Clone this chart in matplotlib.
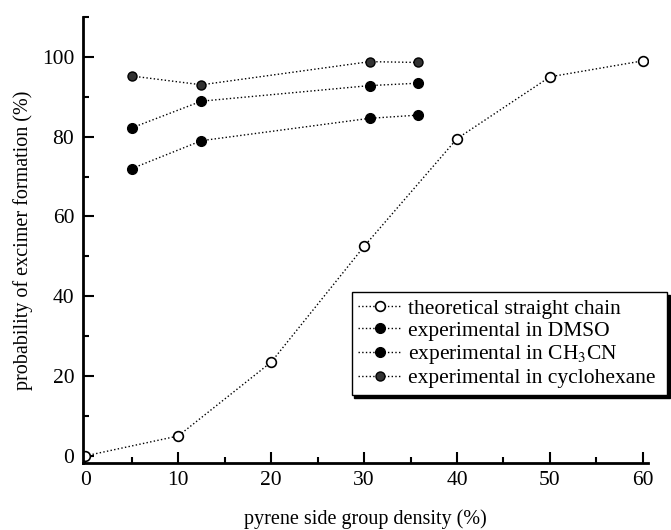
import numpy as np
import matplotlib.pyplot as plt
from matplotlib.ticker import MultipleLocator

plt.rcParams['font.family'] = ['Liberation Serif', 'DejaVu Serif']
plt.rcParams['mathtext.fontset'] = 'stix'

# данные
theory_x = [0, 10, 20, 30, 40, 50, 60]
theory_y = [0, 5, 23.5, 52.5, 79.5, 95, 99]

exp_x = [5, 12.5, 30.6, 35.8]
dmso_y = [72, 79, 84.6, 85.4]
ch3cn_y = [82.2, 88.9, 92.8, 93.4]
cyclohexane_y = [95.2, 93, 98.8, 98.6]

labels = [
    'theoretical straight chain',
    'experimental in DMSO',
    r'experimental in CH$_3$CN',
    'experimental in cyclohexane',
]

fig = plt.figure(figsize=(6.71, 5.30), dpi=100)
ax = fig.add_axes([0.123, 0.127, 0.842, 0.841])

ax.plot(theory_x, theory_y, ls=':', lw=1, color='black', marker='o',
        ms=7, mfc='white', mec='black', mew=1.2, label=labels[0])
ax.plot(exp_x, dmso_y, ls=':', lw=1, color='black', marker='o',
        ms=7, mfc='black', mec='black', label=labels[1])
ax.plot(exp_x, ch3cn_y, ls=':', lw=1, color='black', marker='o',
        ms=7, mfc='black', mec='black', label=labels[2])
ax.plot(exp_x, cyclohexane_y, ls=':', lw=1, color='black', marker='o',
        ms=6.5, mfc='#333333', mec='black', label=labels[3])

ax.set_xlim(-0.3, 60.5)
ax.set_ylim(-1.7, 110)

ax.xaxis.set_major_locator(MultipleLocator(10))
ax.xaxis.set_minor_locator(MultipleLocator(5))
ax.yaxis.set_major_locator(MultipleLocator(20))
ax.yaxis.set_minor_locator(MultipleLocator(10))
ax.set_yticks(np.arange(0, 101, 20))

ax.tick_params(which='both', direction='in', width=1.5, labelsize=15.5,
               top=False, right=False)
ax.tick_params(which='major', length=8, pad=6)
ax.tick_params(which='minor', length=4.5)

for side in ['top', 'right']:
    ax.spines[side].set_visible(False)
for side in ['left', 'bottom']:
    ax.spines[side].set_linewidth(2)

ax.set_xlabel('pyrene side group density (%)', fontsize=14.5, labelpad=14)
ax.set_ylabel('probability of excimer formation (%)', fontsize=14.5, labelpad=6)

leg = ax.legend(loc='lower left', bbox_to_anchor=(0.524, 0.255, 0.47, 0.205),
                bbox_transform=fig.transFigure, mode='expand',
                fontsize=15.5, frameon=True, fancybox=False,
                shadow={'color': 'black', 'alpha': 1},
                handlelength=2.0, handletextpad=0.3, borderpad=0.3,
                labelspacing=0.1, borderaxespad=0)
leg.get_frame().set_edgecolor('black')
leg.get_frame().set_linewidth(1)

fig.savefig('out.png', dpi=100)
